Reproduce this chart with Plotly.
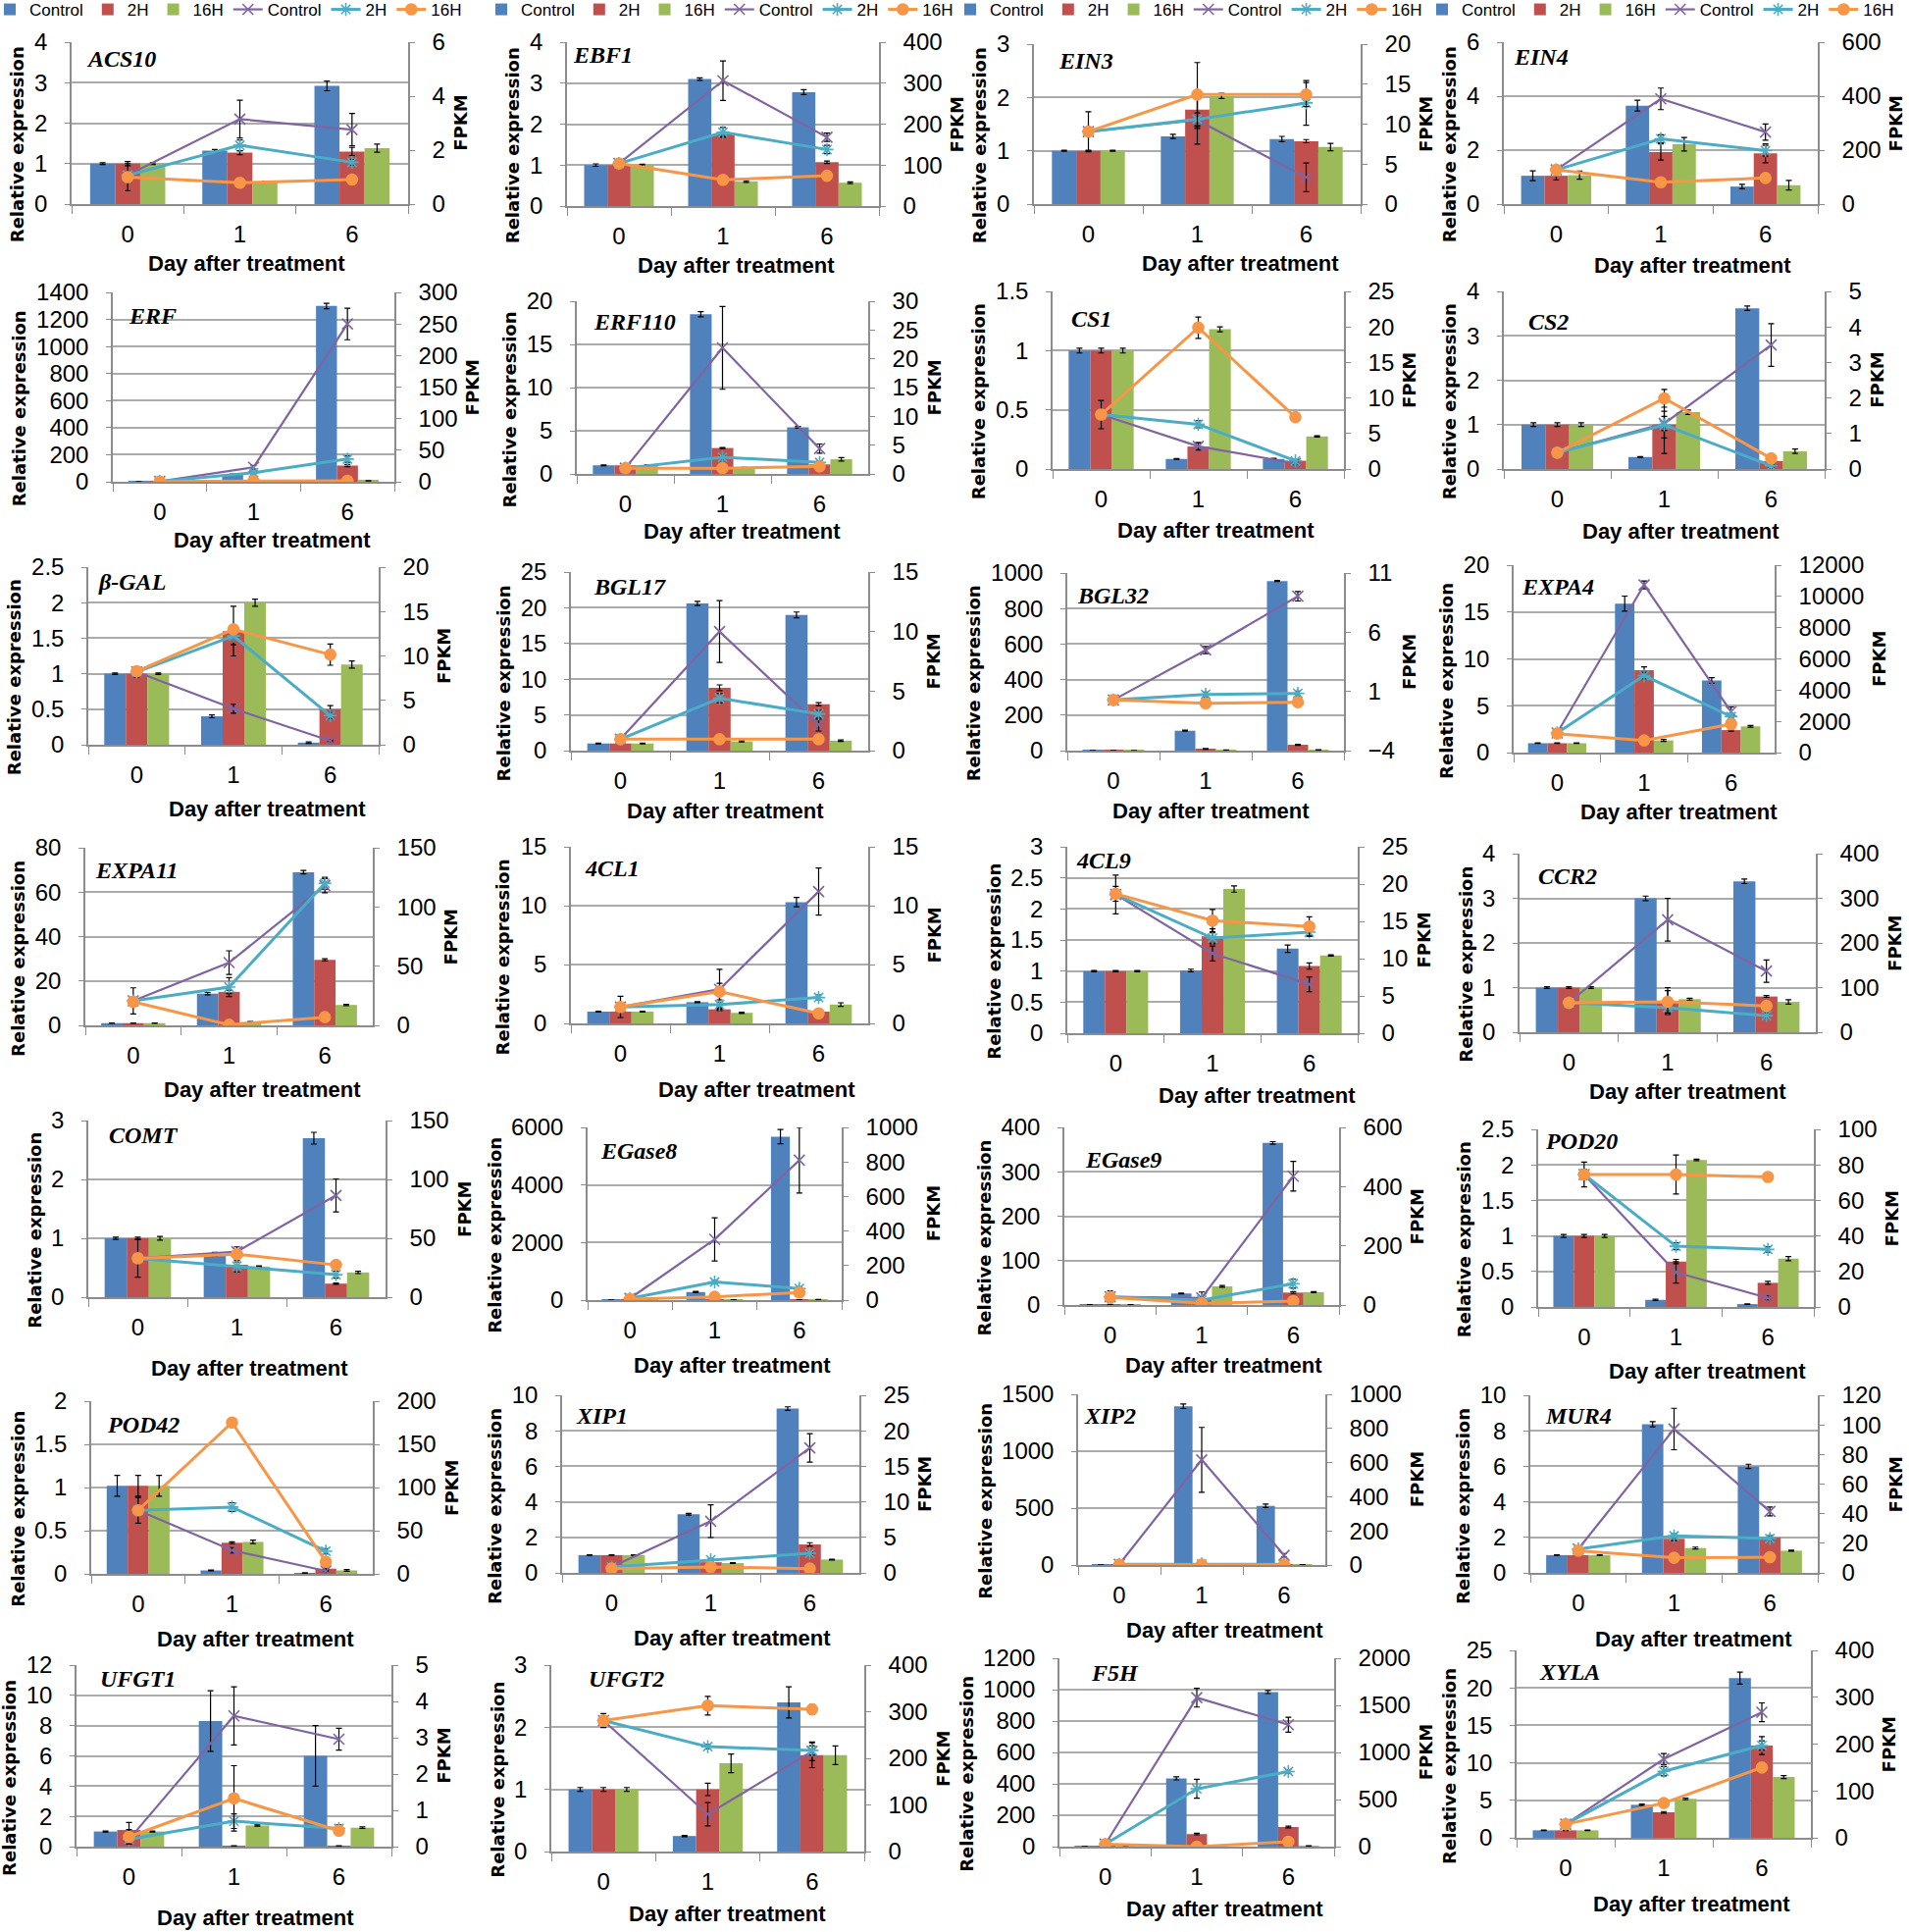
import plotly.graph_objects as go

W, H = 1946, 1969

# ---------------- data ----------------
genes = ["ACS10", "EBF1", "EIN3", "EIN4", "ERF", "ERF110", "CS1", "CS2",
         "β-GAL", "BGL17", "BGL32", "EXPA4", "EXPA11", "4CL1", "4CL9", "CCR2",
         "COMT", "EGase8", "EGase9", "POD20", "POD42", "XIP1", "XIP2", "MUR4",
         "UFGT1", "UFGT2", "F5H", "XYLA"]
days = ["0", "1", "6"]
legend_labels = ["Control", "2H", "16H"]
x_title = "Day after treatment"
y_title = "Relative expression"
y2_title = "FPKM"

# relative expression (bars)
bar_ctrl = [[1.0, 1.32, 2.92], [1.0, 3.1, 2.78], [1.0, 1.27, 1.22], [1.05, 3.65, 0.65],
            [1, 55, 1300], [1.0, 18.5, 5.4], [1.0, 0.085, 0.085], [1.0, 0.27, 3.62],
            [1.0, 0.40, 0.03], [1.0, 20.6, 19.0], [1, 112, 955], [1.0, 15.9, 7.7],
            [1, 14.3, 69], [1.0, 1.8, 10.3], [1.0, 1.01, 1.36], [1.0, 3.0, 3.38],
            [1.0, 0.73, 2.7], [1, 280, 5680], [1, 26, 365], [1.0, 0.1, 0.04],
            [1.02, 0.04, 0.01], [1.0, 3.3, 9.25], [1, 1395, 520], [1.0, 8.37, 6.0],
            [1.0, 8.3, 6.0], [1.0, 0.25, 2.4], [1, 435, 985], [1.0, 4.4, 21.3]]
bar_ctrl_err = [[0.02, 0.03, 0.12], [0.03, 0.03, 0.06], [0.01, 0.04, 0.05], [0.18, 0.2, 0.08],
                [0, 3, 20], [0.05, 0.3, 0.1], [0.02, 0.003, 0.005], [0.04, 0.01, 0.05],
                [0.01, 0.02, 0.01], [0.05, 0.3, 0.4], [0, 3, 3], [0.03, 0.8, 0.3],
                [0.1, 0.5, 0.8], [0.03, 0.05, 0.4], [0.01, 0.02, 0.06], [0.02, 0.05, 0.05],
                [0.02, 0.03, 0.1], [0, 20, 250], [0, 1, 3], [0.02, 0.01, 0.005],
                [0.12, 0.005, 0.002], [0.02, 0.05, 0.1], [0, 20, 15], [0.02, 0.15, 0.12],
                [0.03, 2.0, 2.0], [0.03, 0.01, 0.25], [0, 10, 10], [0.05, 0.1, 0.8]]
bar_2h = [[1.0, 1.27, 1.3], [1.0, 1.75, 1.07], [1.0, 1.77, 1.18], [1.05, 1.93, 1.88],
          [1, 12, 120], [1.0, 3.0, 1.1], [1.0, 0.19, 0.07], [1.0, 1.0, 0.18],
          [1.0, 1.6, 0.5], [1.0, 8.8, 6.5], [1, 10, 33], [1.0, 8.8, 2.4],
          [1, 15.1, 29.5], [1.0, 1.2, 1.0], [1.0, 1.56, 1.08], [1.0, 0.7, 0.8],
          [1.0, 0.55, 0.23], [1, 20, 15], [1, 15, 28], [1.0, 0.64, 0.34],
          [1.02, 0.36, 0.06], [1.0, 0.6, 1.6], [1, 5, 3], [1.0, 1.92, 2.0],
          [1.1, 0.05, 0.05], [1.0, 1.0, 1.55], [1, 80, 125], [1.0, 3.4, 12.3]]
bar_2h_err = [[0.05, 0.05, 0.1], [0.02, 0.05, 0.03], [0.01, 0.35, 0.03], [0.15, 0.3, 0.35],
              [0, 2, 8], [0.05, 0.05, 0.05], [0.02, 0.03, 0.01], [0.04, 0.3, 0.02],
              [0.05, 0.35, 0.05], [0.05, 0.4, 0.2], [0, 2, 3], [0.03, 0.35, 0.1],
              [0.1, 0.8, 0.5], [0.03, 0.1, 0.05], [0.01, 0.12, 0.05], [0.02, 0.3, 0.02],
              [0.02, 0.05, 0.01], [0, 2, 2], [0, 1, 2], [0.02, 0.03, 0.02],
              [0.12, 0.01, 0.01], [0.02, 0.03, 0.1], [0, 1, 1], [0.02, 0.1, 0.1],
              [0.5, 0.01, 0.01], [0.03, 0.1, 0.2], [0, 5, 5], [0.05, 0.1, 1.2]]
bar_16h = [[1.0, 0.55, 1.38], [1.0, 0.6, 0.57], [1.0, 2.03, 1.07], [1.07, 2.22, 0.7],
           [1, 5, 8], [1.0, 0.7, 1.7], [1.0, 1.18, 0.275], [1.0, 1.28, 0.4],
           [1.0, 2.0, 1.13], [1.0, 1.3, 1.4], [1, 3, 4], [1.0, 1.3, 2.8],
           [1, 1.5, 9.2], [1.0, 0.9, 1.6], [1.0, 2.32, 1.25], [1.0, 0.74, 0.68],
           [1.0, 0.52, 0.42], [1, 10, 20], [1, 42, 29], [1.0, 2.07, 0.68],
           [1.02, 0.37, 0.04], [1.0, 0.55, 0.75], [1, 2, 2], [1.0, 1.4, 1.25],
           [1.0, 1.4, 1.25], [1.0, 1.42, 1.55], [1, 5, 5], [1.0, 5.2, 8.1]]
bar_16h_err = [[0.02, 0.02, 0.1], [0.02, 0.02, 0.02], [0.01, 0.05, 0.07], [0.15, 0.25, 0.18],
               [0, 1, 1], [0.05, 0.05, 0.2], [0.02, 0.02, 0.005], [0.04, 0.05, 0.05],
               [0.01, 0.05, 0.05], [0.05, 0.1, 0.1], [0, 1, 1], [0.03, 0.1, 0.1],
               [0.1, 0.2, 0.3], [0.03, 0.05, 0.15], [0.01, 0.05, 0.01], [0.02, 0.02, 0.05],
               [0.03, 0.01, 0.02], [0, 2, 2], [0, 2, 1], [0.02, 0.01, 0.03],
               [0.12, 0.02, 0.01], [0.02, 0.02, 0.02], [0, 1, 1], [0.02, 0.05, 0.03],
               [0.03, 0.05, 0.05], [0.03, 0.15, 0.15], [0, 1, 1], [0.05, 0.1, 0.2]]

# FPKM (lines)
fpkm_ctrl = [[1.07, 3.15, 2.76], [104, 306, 168], [9.06, 10.5, 3.35], [127, 390, 267],
             [0.5, 23, 250], [1.0, 21.9, 4.4], [7.66, 3.2, 0.8], [0.46, 1.28, 3.49],
             [8.2, 4.06, 0.44], [0.96, 10.0, 2.15], [0.28, 4.5, 9.04], [1259, 10740, 2622],
             [20.7, 53, 118], [1.4, 2.9, 11.2], [18.6, 10.7, 6.56], [66, 252, 137],
             [33, 38.7, 86.4], [10, 352, 810], [27.7, 24, 435], [74.6, 19.5, 5.1],
             [73.6, 27.3, 3.4], [0.83, 7.27, 17.6], [4, 616, 57], [16.1, 97.2, 41.5],
             [0.2, 3.6, 2.96], [281, 80, 215], [26, 1582, 1294], [29, 168, 268]]
fpkm_ctrl_err = [[0.1, 0.7, 0.6], [5, 48, 10], [0.5, 3, 1.8], [10, 40, 30],
                 [0, 3, 25], [0.1, 7.2, 0.8], [0.3, 0.5, 0.2], [0.05, 0.2, 0.6],
                 [0.3, 0.5, 0.1], [0.1, 2.6, 0.5], [0.2, 0.3, 0.4], [100, 250, 300],
                 [11, 10, 6], [0.2, 1.7, 2.0], [2.6, 1, 1], [5, 48, 25],
                 [2, 4, 14], [5, 125, 190], [20, 20, 50], [3, 6, 1],
                 [3, 3, 1], [0.1, 2.3, 2], [2, 190, 10], [1, 14, 3],
                 [0.05, 0.8, 0.3], [15, 25, 20], [10, 100, 80], [3, 12, 20]]
fpkm_2h = [[1.07, 2.18, 1.55], [104, 180, 138], [9.06, 10.6, 12.65], [127, 242, 198],
           [0.5, 14.5, 36], [1.0, 2.9, 2.0], [7.66, 6.3, 1.15], [0.46, 1.24, 0.09],
           [8.2, 12.25, 3.28], [0.96, 4.4, 3.08], [0.28, 0.75, 0.83], [1259, 4930, 2308],
           [20.7, 32.3, 120], [1.4, 1.6, 2.2], [18.6, 12.76, 13.55], [66, 55, 37],
           [33, 26.3, 19.1], [10, 105, 67], [27.7, 16.6, 72], [74.6, 34.2, 32.4],
           [73.6, 77.4, 26.2], [0.83, 1.84, 2.76], [4, 6, 4], [16.1, 25, 23.2],
           [0.2, 0.7, 0.5], [281, 225, 217], [26, 614, 797], [29, 142, 197]]
fpkm_2h_err = [[0.1, 0.2, 0.1], [5, 12, 10], [0.5, 0.8, 2.8], [10, 15, 20],
               [0, 2, 5], [0.1, 0.3, 0.3], [0.3, 0.5, 0.2], [0.05, 0.8, 0.05],
               [0.3, 1.0, 0.3], [0.1, 0.4, 0.3], [0.1, 0.2, 0.2], [100, 200, 100],
               [3, 8, 5], [0.1, 0.2, 0.2], [0.5, 0.7, 0.5], [5, 5, 5],
               [2, 5, 3], [5, 10, 10], [5, 5, 15], [3, 2, 1.5],
               [3, 5, 3], [0.1, 0.2, 0.2], [1, 2, 1], [1, 1.5, 1.5],
               [0.05, 0.2, 0.1], [10, 5, 10], [10, 100, 20], [3, 10, 10]]
fpkm_16h = [[1.0, 0.79, 0.91], [104, 64, 74], [9.06, 13.7, 13.7], [127, 81, 97],
            [0.5, 1, 1.5], [1.0, 1.0, 1.3], [7.66, 19.9, 7.3], [0.46, 1.99, 0.3],
            [8.27, 13.0, 10.15], [0.96, 0.96, 0.96], [0.28, 0.0, 0.09], [1217, 776, 1825],
            [19.9, 0.5, 6.9], [1.4, 2.7, 0.85], [18.7, 15.1, 14.3], [66, 68, 59],
            [33, 36.5, 27.4], [6, 19, 44], [25.5, 5.5, 13.3], [74.6, 74.6, 73.2],
            [73.6, 175.3, 14], [0.6, 0.83, 0.6], [2, 2, 2], [15, 10.2, 10.6],
            [0.27, 1.33, 0.44], [281, 313, 305], [26, 0, 52], [29, 74, 150]]
fpkm_16h_err = [[0.5, 0.15, 0.1], [10, 5, 5], [2.5, 4, 1.5], [15, 5, 5],
                [0, 0.5, 0.5], [0.2, 0.2, 0.2], [2, 1.5, 0.5], [0.05, 0.25, 0.1],
                [0.4, 0.5, 1.2], [0.05, 0.05, 0.05], [0.2, 0.2, 0.2], [200, 100, 100],
                [3, 1, 1], [0.9, 0.7, 0.2], [1, 1.5, 1.3], [5, 25, 5],
                [16, 3, 2], [2, 5, 5], [10, 3, 3], [7, 11, 1.5],
                [15, 3, 3], [0.1, 0.1, 0.1], [1, 1, 1], [1.5, 1, 1],
                [0.2, 0.9, 0.1], [10, 20, 10], [5, 5, 5], [3, 5, 5]]

# axis scales (tick labels)
rel_max = [4, 4, 3, 6, 1400, 20, 1.5, 4, 2.5, 25, 1000, 20, 80, 15, 3, 4,
           3, 6000, 400, 2.5, 2, 10, 1500, 10, 12, 3, 1200, 25]
rel_step = [1, 1, 1, 2, 200, 5, 0.5, 1, 0.5, 5, 200, 5, 20, 5, 0.5, 1,
            1, 2000, 100, 0.5, 0.5, 2, 500, 2, 2, 1, 200, 5]
fpkm_min = [0, 0, 0, 0, 0, 0, 0, 0, 0, 0, -4, 0, 0, 0, 0, 0,
            0, 0, 0, 0, 0, 0, 0, 0, 0, 0, 0, 0]
fpkm_max = [6, 400, 20, 600, 300, 30, 25, 5, 20, 15, 11, 12000, 150, 15, 25, 400,
            150, 1000, 600, 100, 200, 25, 1000, 120, 5, 400, 2000, 400]
fpkm_step = [2, 100, 5, 200, 50, 5, 5, 1, 5, 5, 5, 2000, 50, 5, 5, 100,
             50, 200, 200, 20, 50, 5, 200, 20, 1, 100, 500, 100]

# ---------------- geometry (pixels) ----------------
panel_box = [  # left, right, top, bottom
    (73, 416, 43, 208), (578, 896, 43, 210), (1054, 1387, 45, 208), (1533, 1853, 43, 208),
    (115, 402, 298, 491), (588, 885, 307, 483), (1073, 1370, 297, 478), (1533, 1860, 297, 478),
    (90, 386, 578, 759), (582, 885, 583, 765), (1088, 1370, 584, 765), (1543, 1809, 576, 767),
    (87, 380, 864, 1045), (582, 885, 863, 1043), (1088, 1384, 863, 1053), (1549, 1851, 870, 1052),
    (90, 393, 1142, 1322), (599, 858, 1149, 1325), (1085, 1365, 1149, 1330), (1568, 1849, 1151, 1332),
    (93, 380, 1428, 1604), (573, 876, 1422, 1603), (1099, 1351, 1421, 1595), (1560, 1853, 1422, 1603),
    (78, 399, 1697, 1882), (562, 881, 1697, 1887), (1080, 1360, 1690, 1882), (1546, 1846, 1682, 1873)]
gene_pos = [
    (86, 60), (582, 56), (1077, 62), (1541, 58),
    (129, 322), (603, 328), (1090, 325), (1556, 328),
    (98, 593), (603, 598), (1096, 607), (1549, 598),
    (95, 887), (594, 885), (1095, 877), (1566, 893),
    (109, 1157), (610, 1173), (1104, 1182), (1573, 1163),
    (107, 1452), (585, 1443), (1103, 1443), (1573, 1443),
    (100, 1711), (598, 1711), (1110, 1705), (1567, 1704)]
xtitle_pos = [
    (251, 268), (750, 270), (1264, 268), (1725, 270),
    (277, 550), (756, 541), (1239, 540), (1713, 541),
    (272, 825), (739, 827), (1234, 827), (1711, 828),
    (267, 1110), (771, 1110), (1281, 1116), (1720, 1112),
    (254, 1394), (746, 1391), (1247, 1391), (1740, 1397),
    (260, 1670), (746, 1669), (1248, 1661), (1726, 1670),
    (260, 1954), (741, 1950), (1248, 1945), (1724, 1940)]
legend_x = [-10, 491, 969, 1450]

BAR_COLORS = ["#4F81BD", "#C0504D", "#9BBB59"]
LINE_COLORS = ["#8064A2", "#4BACC6", "#F79646"]
SYMBOLS = ["x-thin", "asterisk", "circle"]
LINE_W = [2.2, 3, 3]
AX = "#8C8C8C"
GRID = "#ABABAB"
SANS = "Liberation Sans, Arial, sans-serif"
TICKFONT = dict(family=SANS, size=24, color="black")


def axname(prefix, n):
    return prefix if n == 1 else f"{prefix}{n}"


def label_width(s):
    return sum(6.7 if c == "." else 8 if c == "-" else 13.3 for c in s)


def tick_values(lo, hi, step):
    vals, k = [], 0
    while lo + k * step <= hi + 1e-9:
        vals.append(lo + k * step)
        k += 1
    return vals


def tick_format(lo, step):
    return "d" if float(step).is_integer() and float(lo).is_integer() else ""


fig = go.Figure()
layout = {}
annotations = []

bar_sets = [(bar_ctrl, bar_ctrl_err), (bar_2h, bar_2h_err), (bar_16h, bar_16h_err)]
line_sets = [(fpkm_ctrl, fpkm_ctrl_err), (fpkm_2h, fpkm_2h_err), (fpkm_16h, fpkm_16h_err)]

for i, gene in enumerate(genes):
    xn, ypn, ysn = i + 1, 2 * i + 1, 2 * i + 2
    xref, ypref, ysref = axname("x", xn), axname("y", ypn), axname("y", ysn)
    row, col = divmod(i, 4)
    show = row == 0
    lg = "legend" if col == 0 else f"legend{col + 1}"

    for s, (vals, errs) in enumerate(bar_sets):
        fig.add_trace(go.Bar(
            x=days, y=vals[i], name=legend_labels[s],
            marker=dict(color=BAR_COLORS[s], line=dict(width=0)),
            error_y=dict(type="data", array=errs[i], color="black", thickness=1.2, width=3),
            xaxis=xref, yaxis=ypref, showlegend=show, legend=lg))
    for s, (vals, errs) in enumerate(line_sets):
        fig.add_trace(go.Scatter(
            x=days, y=vals[i], name=legend_labels[s], mode="lines+markers",
            line=dict(color=LINE_COLORS[s], width=LINE_W[s]),
            marker=dict(symbol=SYMBOLS[s], size=11, color=LINE_COLORS[s],
                        line=dict(color=LINE_COLORS[s], width=1.6)),
            error_y=dict(type="data", array=errs[i], color="black", thickness=1.2, width=3),
            xaxis=xref, yaxis=ysref, showlegend=show, legend=lg))

    l, r, t, b = panel_box[i]
    layout[axname("xaxis", xn)] = dict(
        domain=[l / W, r / W], anchor=ypref, type="category",
        categoryorder="array", categoryarray=days, automargin=False,
        showline=True, linecolor=AX, linewidth=1.5,
        ticks="outside", tickson="boundaries", ticklen=8, tickcolor=AX, tickwidth=1.2,
        tickfont=TICKFONT, showgrid=False, ticklabelstandoff=8, fixedrange=True)
    layout[axname("yaxis", ypn)] = dict(
        domain=[1 - b / H, 1 - t / H], anchor=xref, automargin=False,
        range=[0, rel_max[i]], tick0=0, dtick=rel_step[i],
        tickformat=tick_format(0, rel_step[i]),
        showline=True, linecolor=AX, linewidth=1.5,
        ticks="outside", ticklen=5, tickcolor=AX, tickwidth=1.2,
        showgrid=True, gridcolor=GRID, gridwidth=1.8, zeroline=False,
        exponentformat="none",
        tickfont=TICKFONT, ticklabelstandoff=13, fixedrange=True)
    layout[axname("yaxis", ysn)] = dict(
        overlaying=ypref, anchor=xref, side="right", automargin=False,
        range=[fpkm_min[i], fpkm_max[i]], tick0=fpkm_min[i], dtick=fpkm_step[i],
        tickformat=tick_format(fpkm_min[i], fpkm_step[i]),
        showline=True, linecolor=AX, linewidth=1.5,
        ticks="outside", ticklen=5, tickcolor=AX, tickwidth=1.2,
        showgrid=False, zeroline=False,
        exponentformat="none",
        tickfont=TICKFONT, ticklabelstandoff=13, fixedrange=True)

    # titles
    lw = max(label_width(f"{v:g}") for v in tick_values(0, rel_max[i], rel_step[i]))
    rw = max(label_width(f"{v:g}") for v in tick_values(fpkm_min[i], fpkm_max[i], fpkm_step[i]))
    cy = (t + b) / 2
    annotations.append(dict(
        text=f"<b>{y_title}</b>", x=(l - lw - 42) / W, y=1 - (cy + 22) / H,
        xref="paper", yref="paper", textangle=-90, showarrow=False,
        xanchor="center", yanchor="middle",
        font=dict(family="DejaVu Sans, Verdana, sans-serif", size=18, color="black")))
    annotations.append(dict(
        text=f"<b>{y2_title}</b>", x=(r + rw + 40) / W, y=1 - cy / H,
        xref="paper", yref="paper", textangle=-90, showarrow=False,
        xanchor="center", yanchor="middle",
        font=dict(family="DejaVu Sans, Verdana, sans-serif", size=18, color="black")))
    gx, gy = gene_pos[i]
    annotations.append(dict(
        text=f"<b><i>{gene}</i></b>", x=gx / W, y=1 - gy / H,
        xref="paper", yref="paper", showarrow=False, xanchor="left", yanchor="middle",
        font=dict(family="Liberation Serif, Times New Roman, serif", size=24, color="black")))
    tx, ty = xtitle_pos[i]
    annotations.append(dict(
        text=f"<b>{x_title}</b>", x=tx / W, y=1 - ty / H,
        xref="paper", yref="paper", showarrow=False, xanchor="center", yanchor="middle",
        font=dict(family=SANS, size=22, color="black")))

for c in range(4):
    key = "legend" if c == 0 else f"legend{c + 1}"
    layout[key] = dict(
        orientation="h", x=legend_x[c] / W, y=1.0 + 8 / H, xanchor="left", yanchor="top",
        font=dict(family=SANS, size=17, color="black"),
        bgcolor="rgba(0,0,0,0)", itemwidth=30, tracegroupgap=0)

fig.update_layout(
    width=W, height=H, margin=dict(l=0, r=0, t=0, b=0, pad=0, autoexpand=False),
    paper_bgcolor="white", plot_bgcolor="rgba(0,0,0,0)",
    barmode="group", bargap=0.33, bargroupgap=0,
    annotations=annotations, **layout)

fig.write_html("out.html", config={"displayModeBar": False},
               post_script="document.body.style.margin='0';")
